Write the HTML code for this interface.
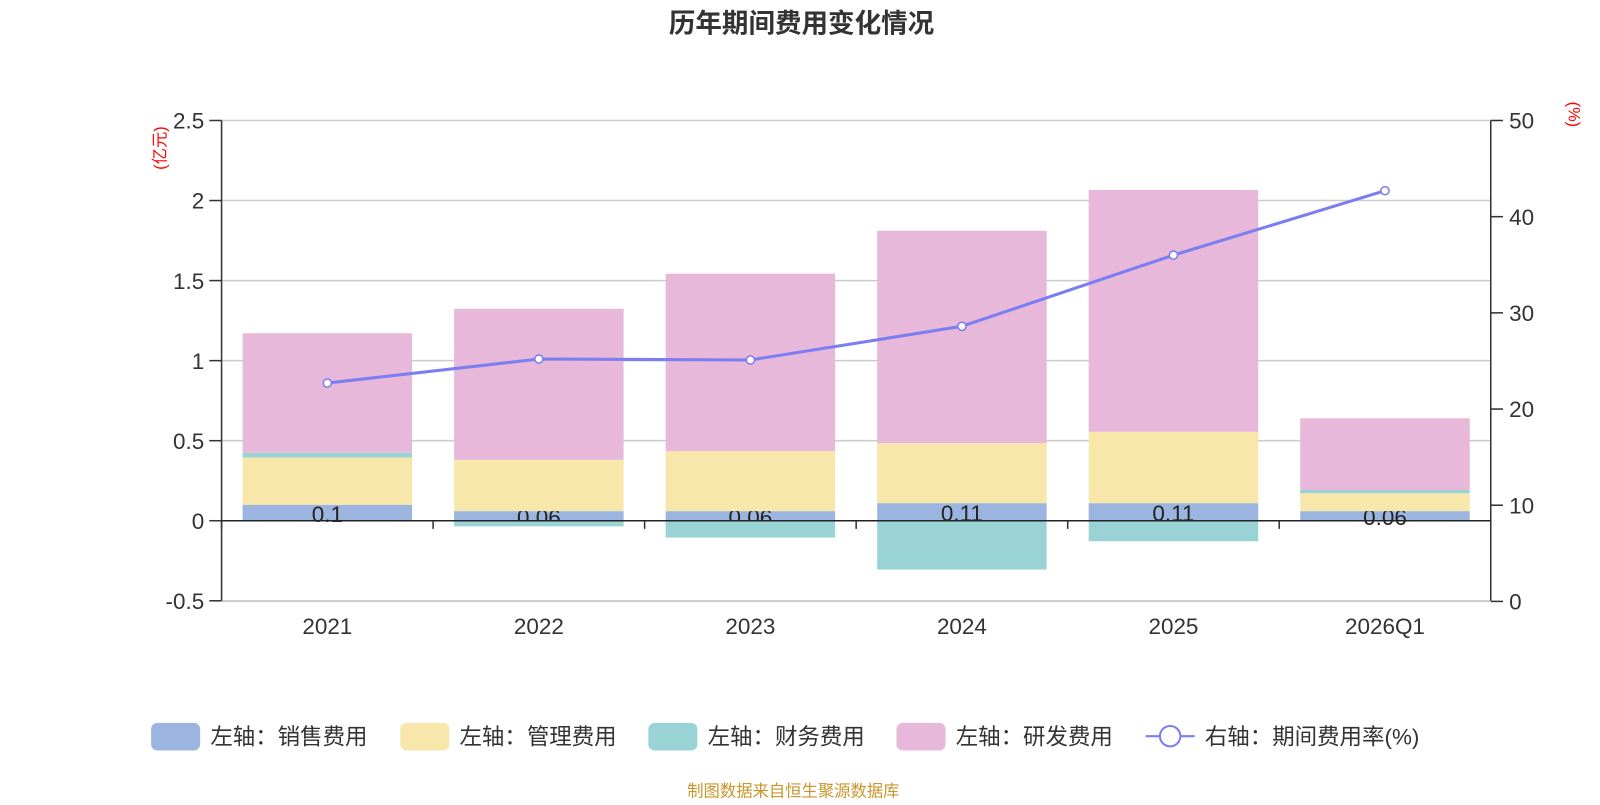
<!DOCTYPE html>
<html><head><meta charset="utf-8"><style>
body{margin:0;background:#fff;width:1600px;height:800px;overflow:hidden;font-family:"Liberation Sans","Noto Sans CJK SC",sans-serif;}
svg text{font-family:"Liberation Sans","Noto Sans CJK SC",sans-serif;}
</style></head><body>
<svg id="c" width="1600" height="800" viewBox="0 0 1567 783.5"></svg>
<script>
const categories=["2021","2022","2023","2024","2025","2026Q1"];
const sales=[0.1,0.06,0.06,0.11,0.11,0.06];
const mgmt=[0.295,0.32,0.374,0.375,0.445,0.112];
const finance=[0.03,-0.035,-0.105,-0.305,-0.128,0.02];
const rnd=[0.746,0.944,1.109,1.326,1.511,0.448];
const rate=[22.7,25.2,25.1,28.6,36.0,42.7];
const leftTicks=[-0.5,0,0.5,1,1.5,2,2.5];
const rightTicks=[0,10,20,30,40,50];
const salesLabels=["0.1","0.06","0.06","0.11","0.11","0.06"];

const svg=document.getElementById('c');const NS='http://www.w3.org/2000/svg';
function mk(t,a,p){const e=document.createElementNS(NS,t);for(const k in a)e.setAttribute(k,a[k]);(p||svg).appendChild(e);return e;}
const X0=217,X1=1460,band=(X1-X0)/categories.length;
const yL=v=>510-v*156.8;
const yR=v=>589-v*9.42;
const xc=i=>X0+band*(i+0.5);
const BW=166;
let t=mk('text',{x:785,y:32,'text-anchor':'middle','font-size':26,'font-weight':'bold',fill:'#333'});t.textContent='历年期间费用变化情况';

leftTicks.forEach(v=>{
 if(v!==0){const l=mk('line',{x1:X0,x2:X1,y1:yL(v),y2:yL(v),stroke:'#ccc','stroke-width':1.5});}
 mk('line',{x1:205,x2:X0,y1:yL(v),y2:yL(v),stroke:'#333','stroke-width':1.5});
 const tx=mk('text',{x:200,y:yL(v)+8,'text-anchor':'end','font-size':22,fill:'#333'});tx.textContent=v;
 
});
rightTicks.forEach(v=>{
 mk('line',{x1:X1,x2:X1+12,y1:yR(v),y2:yR(v),stroke:'#333','stroke-width':1.5});
 const tx=mk('text',{x:1478,y:yR(v)+8,'font-size':22,fill:'#333'});tx.textContent=v;
 
});
t=mk('text',{x:162,y:145,'font-size':16,fill:'red',transform:'rotate(-90 162 145)','text-anchor':'middle'});t.textContent='(亿元)';

t=mk('text',{x:1536,y:112,'font-size':16,fill:'red',transform:'rotate(90 1536 112)','text-anchor':'middle'});t.textContent='(%)';

function bar(i,base,v,color,name){
 const y1=yL(base),y2=yL(base+v);
 const r=mk('rect',{x:xc(i)-BW/2,y:Math.min(y1,y2),width:BW,height:Math.abs(y1-y2),fill:color});
 
}
categories.forEach((c,i)=>{
 bar(i,0,sales[i],'#9bb5e0','bar-sales');
 const lb=mk('text',{x:xc(i),y:yL(sales[i]/2)+9,'text-anchor':'middle','font-size':22,fill:'#222'});lb.textContent=salesLabels[i];
 
 bar(i,sales[i],mgmt[i],'#f8e7aa','bar-management');
 let top=sales[i]+mgmt[i];
 if(finance[i]>=0){bar(i,top,finance[i],'#99d3d6','bar-finance');top+=finance[i];}
 else bar(i,0,finance[i],'#99d3d6','bar-finance');
 bar(i,top,rnd[i],'#e7b8d9','bar-rnd');
});
mk('line',{x1:X0,x2:X0,y1:yL(2.5),y2:yL(-0.5),stroke:'#333','stroke-width':1.5});
mk('line',{x1:X1,x2:X1,y1:yR(50),y2:yR(0),stroke:'#333','stroke-width':1.5});
mk('line',{x1:X0,x2:X1,y1:510,y2:510,stroke:'#222','stroke-width':1.5});
mk('line',{x1:X0,x2:X1,y1:589,y2:589,stroke:'#ccc','stroke-width':1.5});
categories.forEach((c,i)=>{
 mk('line',{x1:X0+band*i,x2:X0+band*i,y1:510,y2:518,stroke:'#333','stroke-width':1.5});
 const tx=mk('text',{x:xc(i),y:621,'text-anchor':'middle','font-size':22,fill:'#333'});tx.textContent=c;
 
});
const pl=mk('polyline',{points:rate.map((v,i)=>xc(i)+','+yR(v)).join(' '),fill:'none',stroke:'#7b7ef0','stroke-width':3});

rate.forEach((v,i)=>{const p=mk('circle',{cx:xc(i),cy:yR(v),r:4,fill:'#fff',stroke:'#7b7ef0','stroke-width':1.5});
 });
const leg=[['#9bb5e0','左轴：销售费用',148],['#f8e7aa','左轴：管理费用',392],['#99d3d6','左轴：财务费用',635],['#e7b8d9','左轴：研发费用',878]];
leg.forEach(([c,s,x])=>{
 const g=mk('g',{});
 mk('rect',{x:x,y:708,width:48,height:27,rx:6,fill:c},g);
 const tx=mk('text',{x:x+58,y:729,'font-size':22,fill:'#333'},g);tx.textContent=s;
});
const g=mk('g',{});
mk('line',{x1:1122,x2:1170,y1:721,y2:721,stroke:'#7b7ef0','stroke-width':2},g);
mk('circle',{cx:1146,cy:721,r:10,fill:'#fff',stroke:'#7b7ef0','stroke-width':2},g);
let tx=mk('text',{x:1180,y:729,'font-size':22,fill:'#333'},g);tx.textContent='右轴：期间费用率(%)';
tx=mk('text',{x:777,y:780,'text-anchor':'middle','font-size':16,fill:'#c8962a'});tx.textContent='制图数据来自恒生聚源数据库';

</script>
</body></html>
